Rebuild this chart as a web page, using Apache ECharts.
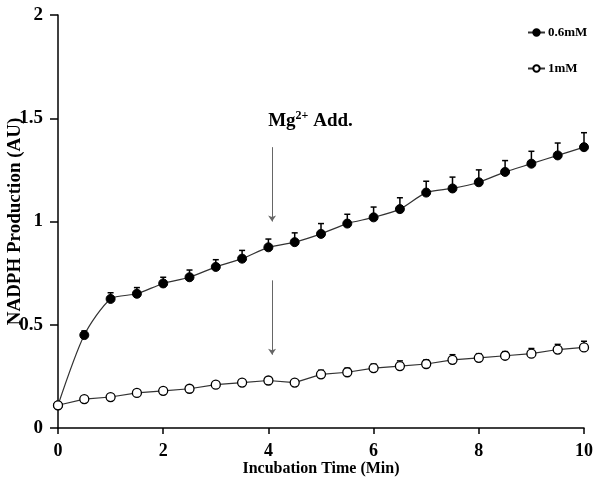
<!DOCTYPE html>
<html>
<head>
<meta charset="utf-8">
<script src="https://cdn.jsdelivr.net/npm/echarts@6/dist/echarts.min.js"></script>
<style>html,body{margin:0;padding:0;background:#fff}#c{width:602px;height:497px}</style>
</head>
<body>
<div id="c"></div>
<script>
const times = [0,0.5,1,1.5,2,2.5,3,3.5,4,4.5,5,5.5,6,6.5,7,7.5,8,8.5,9,9.5,10];
const mg06 = [0.11,0.45,0.625,0.65,0.70,0.73,0.78,0.82,0.875,0.90,0.94,0.99,1.02,1.06,1.14,1.16,1.19,1.24,1.28,1.32,1.36];
const mg06Err = [0,0.02,0.03,0.03,0.03,0.035,0.035,0.04,0.04,0.045,0.05,0.045,0.05,0.055,0.055,0.055,0.06,0.055,0.06,0.06,0.07];
const mg1 = [0.11,0.14,0.15,0.17,0.18,0.19,0.21,0.22,0.23,0.22,0.26,0.27,0.29,0.30,0.31,0.33,0.34,0.35,0.36,0.38,0.39];
const mg1Err = [0,0.01,0.01,0.01,0.01,0.01,0.01,0.01,0.01,0.01,0.02,0.02,0.02,0.025,0.02,0.025,0.02,0.02,0.025,0.025,0.03];
const seriesNames = ['0.6mM','1mM'];
const xTitle = 'Incubation Time (Min)';
const yTitle = 'NADPH Production (AU)';
const arrowX = 4.07;
const arrowUpper = [1.36, 1.0];
const arrowLower = [0.715, 0.355];
const notePos = [4.8, 1.49];

const FONT = '"Liberation Serif", "Times New Roman", serif';

function pairs(xs, ys){ return xs.map((x,i)=>[x, ys[i]]); }
function errData(xs, ys, es){ return xs.map((x,i)=>[x, ys[i], es[i]]); }

function errRender(params, api){
  const x = api.value(0), y = api.value(1), e = api.value(2);
  if (!e) return null;
  const p0 = api.coord([x, y]);
  const p1 = api.coord([x, y + e]);
  const hw = 3;
  const st = {stroke:'#000', lineWidth:1.5};
  return {type:'group', children:[
    {type:'line', shape:{x1:p0[0], y1:p0[1], x2:p1[0], y2:p1[1]}, style:st},
    {type:'line', shape:{x1:p1[0]-hw, y1:p1[1], x2:p1[0]+hw, y2:p1[1]}, style:st}
  ]};
}

const chart = echarts.init(document.getElementById('c'), null, {renderer:'canvas'});
chart.setOption({
  animation:false,
  backgroundColor:'#fff',
  grid:{left:58, right:18, top:15, bottom:69, containLabel:false, outerBoundsMode:'none'},
  legend:{
    data:seriesNames, orient:'vertical', left:527, top:26, itemGap:23, padding:0,
    itemWidth:17, itemHeight:8,
    textStyle:{fontFamily:FONT, fontWeight:'bold', fontSize:13, color:'#000', padding:[0,0,0,-2]}
  },
  xAxis:{
    type:'value', min:0, max:10, interval:2,
    name:xTitle, nameLocation:'middle', nameGap:33, nameMoveOverlap:false,
    nameTextStyle:{fontFamily:FONT, fontWeight:'bold', fontSize:16, color:'#000'},
    axisLine:{lineStyle:{color:'#000', width:1.5}},
    axisTick:{show:true, inside:false, length:6, lineStyle:{color:'#000', width:1.5}},
    axisLabel:{fontFamily:FONT, fontWeight:'bold', fontSize:18, color:'#000', margin:14},
    splitLine:{show:false}
  },
  yAxis:{
    type:'value', min:0, max:2, interval:0.5,
    name:yTitle, nameLocation:'middle', nameGap:33, nameMoveOverlap:false,
    nameTextStyle:{fontFamily:FONT, fontWeight:'bold', fontSize:19, color:'#000'},
    axisLine:{show:true, lineStyle:{color:'#000', width:1.5}},
    axisTick:{show:true, inside:false, length:8, lineStyle:{color:'#000', width:1.5}},
    axisLabel:{fontFamily:FONT, fontWeight:'bold', fontSize:19, color:'#000', margin:15},
    splitLine:{show:false}
  },
  series:[
    {type:'custom', name:'err06', renderItem:errRender, data:errData(times, mg06, mg06Err), z:1, silent:true},
    {type:'custom', name:'err1', renderItem:errRender, data:errData(times, mg1, mg1Err), z:1, silent:true},
    {
      type:'line', name:seriesNames[0], data:pairs(times, mg06), smooth:0.25,
      symbol:'circle', symbolSize:9, z:3,
      lineStyle:{color:'#333', width:1.2},
      itemStyle:{color:'#000', borderColor:'#000', borderWidth:1},
      markLine:{
        silent:true, symbol:['none','arrow'], symbolSize:6,
        lineStyle:{color:'#666', width:1, type:'solid'}, label:{show:false},
        data:[
          [{coord:[arrowX, arrowUpper[0]]},{coord:[arrowX, arrowUpper[1]]}],
          [{coord:[arrowX, arrowLower[0]]},{coord:[arrowX, arrowLower[1]]}]
        ]
      },
      markPoint:{
        silent:true, symbol:'circle', symbolSize:0,
        data:[{coord:notePos}],
        label:{
          show:true, position:'inside',
          formatter:'{a|Mg}{s|2+}{a| Add.}',
          rich:{
            a:{fontFamily:FONT, fontWeight:'bold', fontSize:19, color:'#000', verticalAlign:'bottom'},
            s:{fontFamily:FONT, fontWeight:'bold', fontSize:12, color:'#000', verticalAlign:'bottom', padding:[0,0,8,0]}
          }
        }
      }
    },
    {
      type:'line', name:seriesNames[1], data:pairs(times, mg1),
      symbol:'circle', symbolSize:9, z:3,
      lineStyle:{color:'#333', width:1.2},
      itemStyle:{color:'#fff', borderColor:'#000', borderWidth:1.3}
    }
  ]
});
</script>
</body>
</html>
